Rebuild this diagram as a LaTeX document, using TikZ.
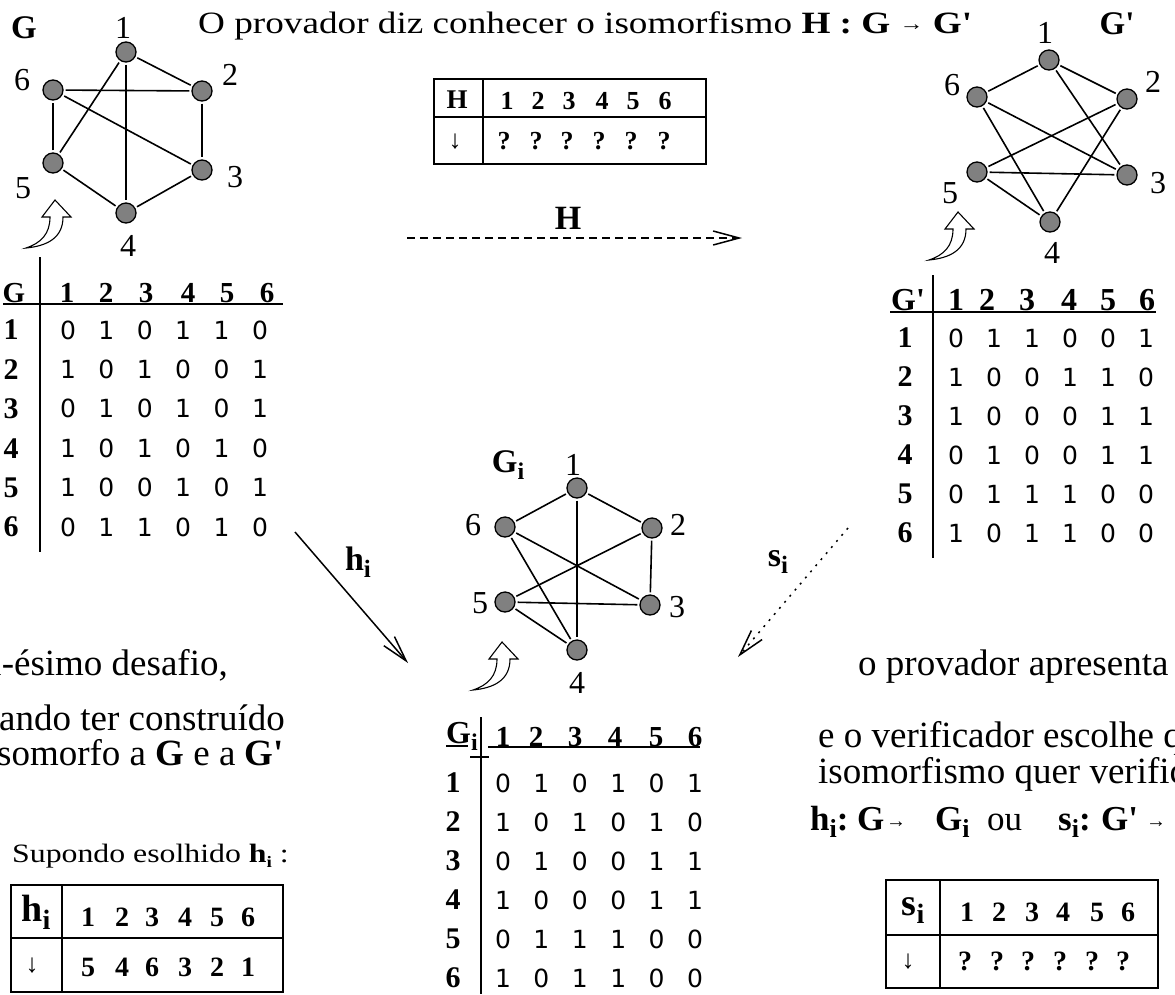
\documentclass[tikz,border=0pt]{standalone}
\usepackage{fontspec}
\setmainfont{Liberation Serif}
\newfontfamily\wideserif[FakeStretch=1.2]{Liberation Serif}
\newfontfamily\digfont{DejaVu Sans}
\usetikzlibrary{arrows.meta}
\definecolor{nodegray}{RGB}{128,128,128}
\newcommand\fs[1]{\fontsize{#1}{#1}\selectfont}
\newcommand\subi[2]{\raisebox{#2}{\fs{#1}\bfseries i}}
\newcommand\smarrow{{\fs{20}\raisebox{3pt}{→}}}
\newcommand\pr{\textquotesingle}
\tikzset{
  hollowarrow/.pic={\draw[line width=1.1pt,fill=white,line join=miter]
    (0,0) -- (16,17) -- (8,17) .. controls (8,38) and (-8,46) .. (-29,48)
    .. controls (-14,43) and (-5,34) .. (-5,17) -- (-13,17) -- cycle;}
}
\begin{document}
\begin{tikzpicture}[x=1pt,y=-1pt,
  vtx/.style={circle,draw=black,line width=1.3pt,fill=nodegray,minimum size=20pt,inner sep=0pt},
  edge/.style={line width=1.6pt,shorten <=2pt,shorten >=2pt},
  vlab/.style={font=\fs{32},inner sep=0pt},
  txt/.style={font=\fs{37},inner sep=0pt},
  btxt/.style={font=\fs{33}\bfseries,inner sep=0pt},
  hdr/.style={font=\fs{29}\bfseries,inner sep=0pt},
  rowl/.style={font=\fs{30}\bfseries,inner sep=0pt},
  dat/.style={font=\fs{25}\digfont,inner sep=0pt},
  tdig/.style={font=\fs{28}\bfseries,inner sep=0pt},
  tarr/.style={font=\fs{26},inner sep=0pt},
  tbl/.style={line width=1.5pt},
  mline/.style={line width=1.5pt},
  conn/.style={line width=1.5pt,-{Straight Barb[length=26pt,width=14pt]}}
]
\useasboundingbox (0,0) rectangle (1175,994);

% ---------- title ----------
\node[font=\fs{31}\wideserif,inner sep=0pt,anchor=base west] (title) at (198,33)
  {O provador diz conhecer o isomorfismo \textbf{H : G} \smarrow{} \textbf{G\pr}};

% ---------- graph G ----------
\node[btxt] (Glab) at (24,28) {G};
\node[vtx] (a1) at (126,52) {};
\node[vtx] (a2) at (202,91) {};
\node[vtx] (a3) at (202,170) {};
\node[vtx] (a4) at (126,213) {};
\node[vtx] (a5) at (53,163) {};
\node[vtx] (a6) at (53,90) {};
\node[vlab] (la1) at (123,28) {1};
\node[vlab] (la2) at (230,75) {2};
\node[vlab] (la3) at (235,177) {3};
\node[vlab] (la4) at (128,246) {4};
\node[vlab] (la5) at (23,188) {5};
\node[vlab] (la6) at (22,80) {6};
\foreach \u/\v in {1/2,1/4,1/5,2/3,2/6,3/4,3/6,4/5,5/6}
  \draw[edge] (a\u) -- (a\v);
\pic at (55,200) {hollowarrow};

% ---------- matrix G ----------
\node[hdr] (mGh) at (14,293) {G};
\foreach \x [count=\j] in {67,106,146,188,227,267}
  \node[hdr] (mGc\j) at (\x,293) {\j};
\draw[mline] (3,304) -- (283,304);
\draw[mline] (40,257) -- (40,552);
\foreach \r [count=\i] in {{0,1,0,1,1,0},{1,0,1,0,0,1},{0,1,0,1,0,1},{1,0,1,0,1,0},{1,0,0,1,0,1},{0,1,1,0,1,0}}{
  \node[rowl] (mGr\i) at (11,{330+39.4*(\i-1)}) {\i};
  \foreach \v [count=\j] in \r
    \node[dat] (mG\i\j) at ({68+38.4*(\j-1)},{330+39.4*(\i-1)}) {\v};
}

% ---------- H table ----------
\draw[tbl] (434,79) rectangle (706,164);
\draw[tbl] (434,117) -- (706,117);
\draw[tbl] (483,79) -- (483,164);
\node[font=\fs{27}\bfseries,inner sep=0pt] (Hh) at (457,100) {H};
\node[tarr] (Ha) at (455,142) {↓};
\foreach \x [count=\j] in {507,538,569,602,633,665}
  \node[font=\fs{26}\bfseries,inner sep=0pt] (Hc\j) at (\x,101) {\j};
\foreach \x [count=\j] in {504,536,567,599,631,664}
  \node[font=\fs{26}\bfseries,inner sep=0pt] (Hq\j) at (\x,141) {?};

% ---------- H arrow ----------
\coordinate (Hs) at (407,238);
\coordinate (He) at (742,238);
\draw[conn,dash pattern=on 8pt off 5pt] (Hs) -- (He);
\node[font=\fs{34}\bfseries,inner sep=0pt] (Hl) at (568,218) {H};

% ---------- graph G' ----------
\node[btxt] (Gplab) at (1117,24) {G\pr};
\node[vtx] (b1) at (1049,60) {};
\node[vtx] (b2) at (1127,99) {};
\node[vtx] (b3) at (1127,175) {};
\node[vtx] (b4) at (1050,222) {};
\node[vtx] (b5) at (977,172) {};
\node[vtx] (b6) at (977,97) {};
\node[vlab] (lb1) at (1045,33) {1};
\node[vlab] (lb2) at (1153,82) {2};
\node[vlab] (lb3) at (1158,183) {3};
\node[vlab] (lb4) at (1052,253) {4};
\node[vlab] (lb5) at (950,193) {5};
\node[vlab] (lb6) at (952,85) {6};
\foreach \u/\v in {1/2,1/3,1/6,2/4,2/5,3/5,3/6,4/5,4/6}
  \draw[edge] (b\u) -- (b\v);
\pic at (958,212) {hollowarrow};

% ---------- matrix G' ----------
\node[font=\fs{32}\bfseries,inner sep=0pt] (mHh) at (908,300) {G\pr};
\foreach \x [count=\j] in {956,987,1027,1069,1108,1147}
  \node[font=\fs{32}\bfseries,inner sep=0pt] (mHc\j) at (\x,300) {\j};
\draw[mline] (890,312) -- (1156,312);
\draw[mline] (933,275) -- (933,558);
\foreach \r [count=\i] in {{0,1,1,0,0,1},{1,0,0,1,1,0},{1,0,0,0,1,1},{0,1,0,0,1,1},{0,1,1,1,0,0},{1,0,1,1,0,0}}{
  \node[rowl] (mHr\i) at (905,{338+39*(\i-1)}) {\i};
  \foreach \v [count=\j] in \r
    \node[dat] (mH\i\j) at ({956+38*(\j-1)},{338+39*(\i-1)}) {\v};
}

% ---------- graph Gi ----------
\node[btxt] (Gilab) at (508,465) {G\subi{24}{-7pt}};
\node[vtx] (c1) at (577,488) {};
\node[vtx] (c2) at (652,528) {};
\node[vtx] (c3) at (650,605) {};
\node[vtx] (c4) at (577,650) {};
\node[vtx] (c5) at (505,602) {};
\node[vtx] (c6) at (505,527) {};
\node[vlab] (lc1) at (573,465) {1};
\node[vlab] (lc2) at (678,525) {2};
\node[vlab] (lc3) at (677,607) {3};
\node[vlab] (lc4) at (577,683) {4};
\node[vlab] (lc5) at (480,603) {5};
\node[vlab] (lc6) at (473,525) {6};
\foreach \u/\v in {1/2,1/4,1/6,2/3,2/5,3/5,3/6,4/5,4/6}
  \draw[edge] (c\u) -- (c\v);
\pic at (502,642) {hollowarrow};

% ---------- matrix Gi ----------
\node[font=\fs{32}\bfseries,inner sep=0pt,anchor=base west] (mIh) at (446,743) {G\subi{24}{-7pt}};
\draw[line width=1.1pt] (446,746) -- (468,746);
\draw[line width=1.1pt] (470,757) -- (489,757);
\foreach \x [count=\j] in {503,536,575,615,656,695}
  \node[hdr] (mIc\j) at (\x,737) {\j};
\draw[mline] (488,747) -- (700,747);
\draw[mline] (481,717) -- (481,994);
\foreach \r [count=\i] in {{0,1,0,1,0,1},{1,0,1,0,1,0},{0,1,0,0,1,1},{1,0,0,0,1,1},{0,1,1,1,0,0},{1,0,1,1,0,0}}{
  \node[rowl] (mIr\i) at (453,{783+39*(\i-1)}) {\i};
  \foreach \v [count=\j] in \r
    \node[dat] (mI\i\j) at ({503+38.4*(\j-1)},{783+39*(\i-1)}) {\v};
}

% ---------- hi and si arrows ----------
\coordinate (hs) at (295,532);
\coordinate (he) at (408,663);
\draw[conn] (hs) -- (he);
\node[font=\fs{34}\bfseries,inner sep=0pt] (hl) at (358,562) {h\subi{25}{-7pt}};
\coordinate (ss) at (848,528);
\coordinate (se) at (738,657);
\draw[conn,dash pattern=on 2pt off 6pt] (ss) -- (se);
\node[font=\fs{34}\bfseries,inner sep=0pt] (sl) at (778,562) {s\subi{25}{-7pt}};

% ---------- left texts ----------
\node[txt,anchor=base east] (lt1) at (228,675) {i-ésimo desafio,};
\node[txt,anchor=base east] (lt2) at (285,730) {ando ter construído};
\node[txt,anchor=base east] (lt3) at (284,765) {somorfo a \textbf{G} e a \textbf{G\pr}};
\node[font=\fs{26.5}\wideserif,inner sep=0pt,anchor=base west] (lt4) at (12,862)
  {Supondo esolhido \textbf{h}\subi{16}{-5pt} :};

% ---------- hi table ----------
\draw[tbl] (11,885) rectangle (283,992);
\draw[tbl] (11,938) -- (283,938);
\draw[tbl] (62,885) -- (62,992);
\node[font=\fs{38}\bfseries,inner sep=0pt] (hih) at (36,912) {h\subi{28}{-8pt}};
\node[tarr] (hia) at (32,966) {↓};
\foreach \x [count=\j] in {88,122,152,185,217,248}
  \node[tdig] (hic\j) at (\x,917) {\j};
\foreach \x/\v [count=\j] in {88/5,122/4,152/6,185/3,217/2,248/1}
  \node[tdig] (hiv\j) at (\x,967) {\v};

% ---------- right texts ----------
\node[txt,anchor=base west] (rt1) at (858,675) {o provador apresenta};
\node[txt,anchor=base west] (rt2) at (818,747) {e o verificador escolhe qual};
\node[txt,anchor=base west] (rt3) at (818,783) {isomorfismo quer verificar:};
\node[font=\fs{35},inner sep=0pt,anchor=base west] (rt4a) at (810,830) {\textbf{h\subi{26}{-7pt}:}};
\node[font=\fs{35},inner sep=0pt,anchor=base west] (rt4b) at (857,830) {\textbf{G}};
\node[font=\fs{35},inner sep=0pt,anchor=base west] (rt4c) at (886,830) {\smarrow};
\node[font=\fs{35},inner sep=0pt,anchor=base west] (rt4d) at (935,830) {\textbf{G\subi{26}{-7pt}}};
\node[font=\fs{35},inner sep=0pt,anchor=base west] (rt4e) at (987,830) {ou};
\node[font=\fs{35},inner sep=0pt,anchor=base west] (rt4f) at (1058,830) {\textbf{s\subi{26}{-7pt}:}};
\node[font=\fs{35},inner sep=0pt,anchor=base west] (rt4g) at (1101,830) {\textbf{G\pr}};
\node[font=\fs{35},inner sep=0pt,anchor=base west] (rt4h) at (1146,830) {\smarrow};

% ---------- si table ----------
\draw[tbl] (886,880) rectangle (1158,988);
\draw[tbl] (886,935) -- (1158,935);
\draw[tbl] (940,880) -- (940,988);
\node[font=\fs{38}\bfseries,inner sep=0pt] (sih) at (913,911) {s\subi{28}{-8pt}};
\node[tarr] (sia) at (908,962) {↓};
\foreach \x [count=\j] in {967,999,1032,1063,1097,1128}
  \node[tdig] (sic\j) at (\x,912) {\j};
\foreach \x [count=\j] in {965,997,1028,1060,1092,1123}
  \node[tdig] (siq\j) at (\x,961) {?};
\end{tikzpicture}
\end{document}
